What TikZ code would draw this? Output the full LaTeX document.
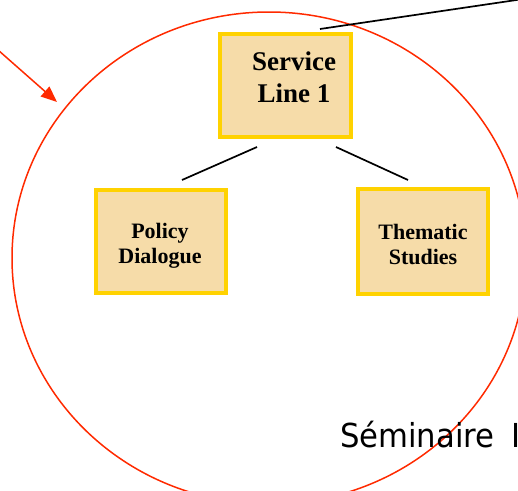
\documentclass[tikz,border=0pt]{standalone}
\usepackage{fontspec}
\setmainfont{Liberation Serif}
\newfontfamily\semfont[FakeStretch=0.93]{DejaVu Sans}
\usetikzlibrary{arrows.meta,calc}
\definecolor{boxfill}{HTML}{F6DCA9}
\definecolor{boxedge}{HTML}{FFD200}
\definecolor{redline}{HTML}{FF2A00}
\tikzset{
  slbox/.style={draw=boxedge, fill=boxfill, line width=4pt, inner sep=0pt, rectangle},
  bigtxt/.style={font=\fontsize{27}{32}\selectfont\bfseries, align=center, inner sep=0pt},
  smalltxt/.style={font=\fontsize{22}{25}\selectfont\bfseries, align=center, inner sep=0pt},
  conn/.style={draw=black, line width=1.7pt},
  redstroke/.style={draw=redline, line width=1.5pt}
}
\begin{document}
\begin{tikzpicture}[x=1pt,y=-1pt]
\useasboundingbox (0,0) rectangle (518,490);
% big ellipse
\draw[redstroke] (269,258) ellipse [x radius=257, y radius=246];
% boxes
\node[slbox, minimum width=131pt, minimum height=103pt] (sl) at (285.5,85.5) {};
\node[slbox, minimum width=130pt, minimum height=103pt] (pd) at (161,241.5) {};
\node[slbox, minimum width=130pt, minimum height=105pt] (ts) at (423,241.5) {};
% texts (base anchor = baseline of last line)
\node[bigtxt, anchor=base] (sltext) at (294,102) {Service\\Line 1};
\node[smalltxt, anchor=base] (pdtext) at (160,263) {Policy\\Dialogue};
\node[smalltxt, anchor=base] (tstext) at (423,264) {Thematic\\Studies};
% connectors
\draw[conn] ($(sl.south)+(-28.5,8)$) -- ($(pd.north)+(21,-8)$);
\draw[conn] ($(sl.south)+(50.5,8)$) -- ($(ts.north)+(-15,-7)$);
\coordinate (topright) at (530,-2);
\draw[conn] ($(sl.north)+(34.5,-3)$) -- (topright);
% red arrow
\coordinate (arrstart) at (-2,50);
\coordinate (arrtip) at (57,102);
\draw[redstroke, -{Triangle[length=16pt,width=13pt]}] (arrstart) -- (arrtip);
% seminaire text
\node[anchor=base west, inner sep=0pt, font=\semfont\fontsize{33}{36}\selectfont] (sem) at (340,447) {Séminaire \kern7pt I};
\end{tikzpicture}
\end{document}
